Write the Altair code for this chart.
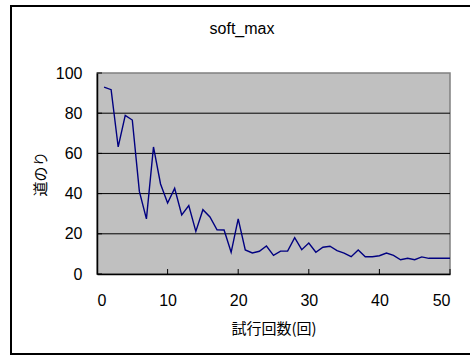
import altair as alt
import pandas as pd

# Distance travelled per trial (soft_max policy)
trials = list(range(1, 51))
distance = [
    93.0, 91.7, 63.2, 78.9, 76.6, 41.1, 27.4, 63.2, 44.8, 35.3,
    42.6, 29.4, 34.0, 21.2, 32.0, 28.4, 22.0, 21.9, 10.8, 27.4,
    12.0, 10.5, 11.3, 13.9, 9.3, 11.4, 11.4, 18.1, 12.1, 15.4,
    10.8, 13.3, 13.8, 11.6, 10.4, 8.6, 11.9, 8.6, 8.6, 9.1,
    10.4, 9.3, 7.1, 7.8, 7.1, 8.5, 7.8, 7.8, 7.8, 7.8,
]

x_ticks = [0, 10, 20, 30, 40, 50]
y_ticks = [0, 20, 40, 60, 80, 100]
grid_lines = [20, 40, 60, 80]

W, H = 353, 201
FONT = "Liberation Sans"
CJK = "Noto Sans CJK JP"

df = pd.DataFrame({"trial": trials, "distance": distance})
x_scale = alt.Scale(domain=[0, 50], nice=False, zero=False)
y_scale = alt.Scale(domain=[0, 100], nice=False)

x_axis = alt.Axis(
    values=x_ticks, title="試行回数(回)", grid=False, ticks=False,
    domainColor="black", domainWidth=1.5, labelFont=FONT,
    labelFontSize=16, labelColor="black", labelPadding=18,
    titleFont=CJK, titleFontSize=15, titleFontWeight="normal",
    titleColor="black", titleX=W / 2, titleY=54, titleBaseline="middle",
)
y_axis = alt.Axis(
    values=y_ticks, title="道のり", grid=False, ticks=False,
    domainColor="black", domainWidth=1.5, labelFont=FONT,
    labelFontSize=16, labelColor="black", labelPadding=15,
    titleFont=CJK, titleFontSize=15, titleFontWeight="normal",
    titleColor="black", titleX=-57, titleY=H / 2,
    titleBaseline="middle", titleAngle=270,
)

grid = alt.Chart(pd.DataFrame({"distance": grid_lines})).mark_rule(
    color="black", strokeWidth=1
).encode(y=alt.Y("distance:Q", scale=y_scale, axis=y_axis))

line = alt.Chart(df).mark_line(color="#000080", strokeWidth=1.4).encode(
    x=alt.X("trial:Q", scale=x_scale, axis=x_axis),
    y=alt.Y("distance:Q", scale=y_scale, axis=y_axis),
)

# inward tick marks on both axes
x_tick_marks = alt.Chart(pd.DataFrame({"trial": x_ticks[1:]})).mark_rule(
    color="black", strokeWidth=1
).encode(
    x=alt.X("trial:Q", scale=x_scale, axis=x_axis),
    y=alt.value(H - 5), y2=alt.value(H),
)
y_tick_marks = alt.Chart(pd.DataFrame({"distance": y_ticks})).mark_rule(
    color="black", strokeWidth=1
).encode(
    y=alt.Y("distance:Q", scale=y_scale, axis=y_axis),
    x=alt.value(0), x2=alt.value(5),
)

# chart title and outer frame
title = alt.Chart(pd.DataFrame({"a": [0]})).mark_text(
    text="soft_max", font=FONT, fontSize=16, color="black",
    align="center", baseline="middle",
).encode(x=alt.value(145), y=alt.value(-44))

frame = alt.Chart(pd.DataFrame({"a": [0]})).mark_rect(
    filled=False, stroke="black", strokeWidth=2
).encode(
    x=alt.value(-86), x2=alt.value(390), y=alt.value(-67), y2=alt.value(281)
)

chart = alt.layer(grid, line, x_tick_marks, y_tick_marks, title, frame).properties(
    width=W,
    height=H,
    autosize=alt.AutoSizeParams(type="none"),
    padding={"left": 97, "top": 73, "right": 20, "bottom": 82},
).configure(background="white").configure_view(
    fill="#c0c0c0", stroke="#808080", strokeWidth=1.5
)

chart.save("out.html", embed_options={"renderer": "svg", "actions": False})
